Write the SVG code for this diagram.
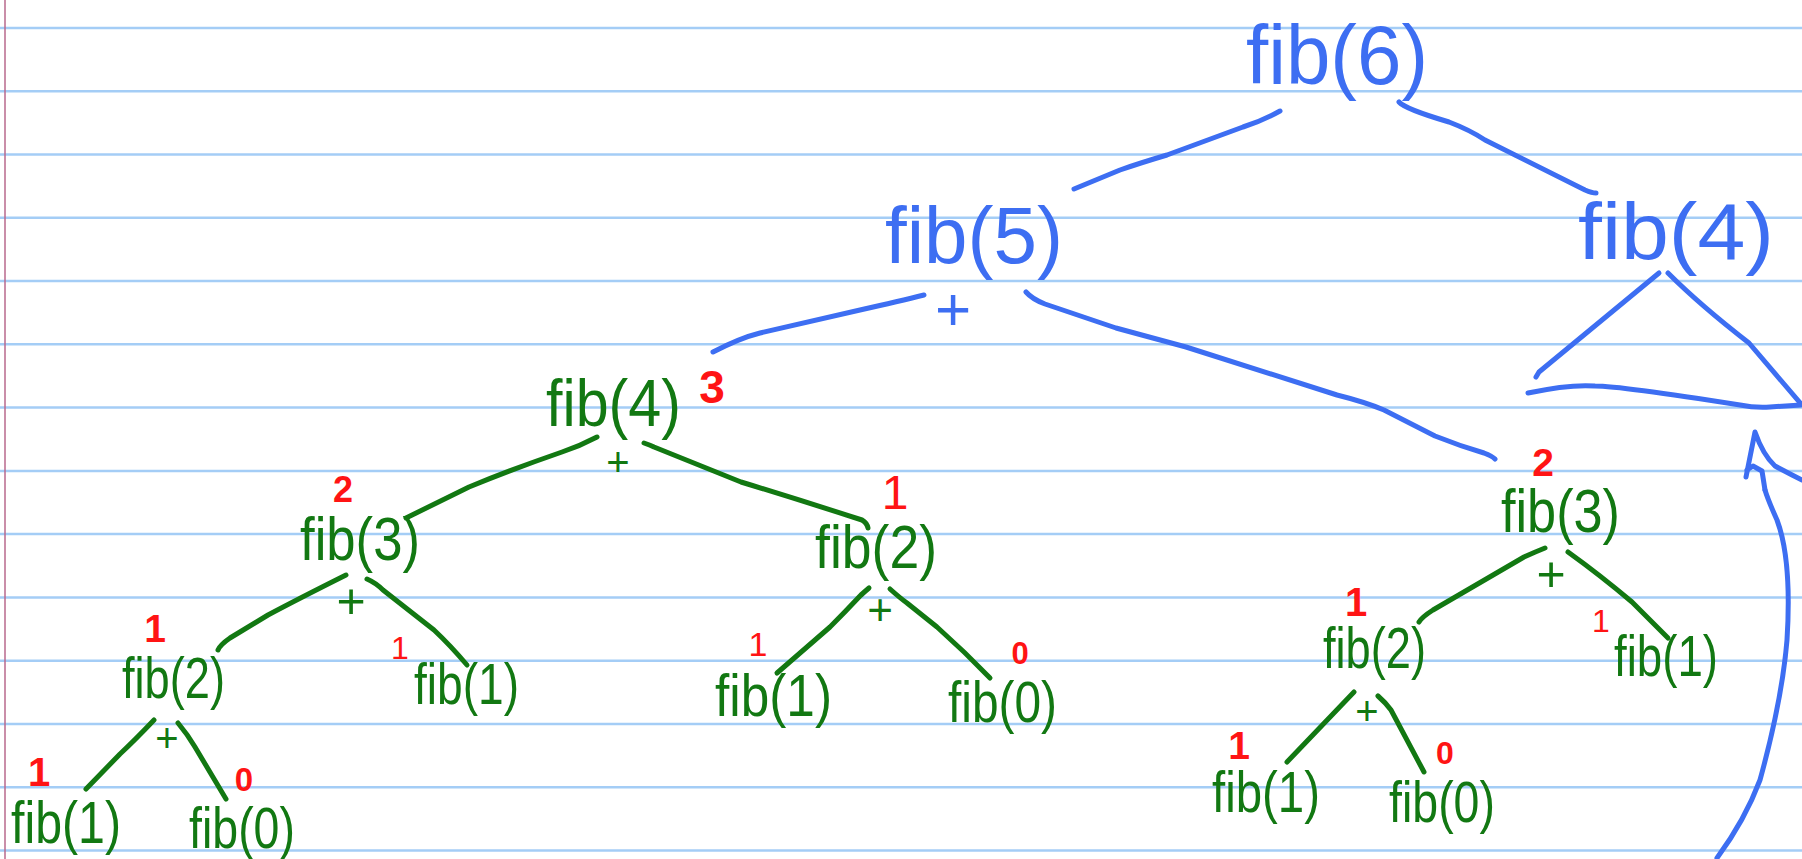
<svg xmlns="http://www.w3.org/2000/svg" width="1802" height="859" viewBox="0 0 1802 859">
<style>
.rule{stroke:#a4cdf6;stroke-width:2.5}
.margin{stroke:#b8698c;stroke-width:1.5}
.node{font-family:"Liberation Sans",Arial,sans-serif}
.blue{fill:#3d6ef2}
.green{fill:#127812}
.red{fill:#ff1414;font-family:"Liberation Sans",Arial,sans-serif;text-anchor:middle}
.b{font-weight:bold}
.plus{font-family:"Liberation Sans",Arial,sans-serif;text-anchor:middle}
.cb{fill:none;stroke:#3d6ef2;stroke-width:5;stroke-linecap:round;stroke-linejoin:round}
.cg{fill:none;stroke:#127812;stroke-width:5;stroke-linecap:round;stroke-linejoin:round}
</style>
<rect width="1802" height="859" fill="#ffffff"/>
<g id="paper">
<line class="rule" x1="0" y1="28" x2="1802" y2="28"/>
<line class="rule" x1="0" y1="91.3" x2="1802" y2="91.3"/>
<line class="rule" x1="0" y1="154.5" x2="1802" y2="154.5"/>
<line class="rule" x1="0" y1="217.8" x2="1802" y2="217.8"/>
<line class="rule" x1="0" y1="281" x2="1802" y2="281"/>
<line class="rule" x1="0" y1="344.3" x2="1802" y2="344.3"/>
<line class="rule" x1="0" y1="407.6" x2="1802" y2="407.6"/>
<line class="rule" x1="0" y1="470.9" x2="1802" y2="470.9"/>
<line class="rule" x1="0" y1="534.1" x2="1802" y2="534.1"/>
<line class="rule" x1="0" y1="597.4" x2="1802" y2="597.4"/>
<line class="rule" x1="0" y1="660.7" x2="1802" y2="660.7"/>
<line class="rule" x1="0" y1="724" x2="1802" y2="724"/>
<line class="rule" x1="0" y1="787.2" x2="1802" y2="787.2"/>
<line class="rule" x1="0" y1="850.5" x2="1802" y2="850.5"/>
<line class="margin" x1="5" y1="0" x2="5" y2="859"/>
</g>
<g id="connectors">
<path class="cb" d="M1280 111 Q1262 121 1243 127 L1167 155 Q1140 163 1120 170 L1074 189"/>
<path class="cb" d="M1399 102 Q1405 109 1449 122 Q1470 130 1485 140 L1585 190 Q1592 193 1596 193"/>
<path class="cb" d="M924 295 Q900 301 860 310 L760 333 Q740 338 713 352"/>
<path class="cb" d="M1026 292 Q1032 299 1045 304 L1116 328 L1186 347 L1337 395 Q1365 402 1384 410 L1435 436 Q1460 446 1484 453 Q1492 456 1495 459"/>
<path class="cb" d="M1659 273 L1539 372 L1536 377"/>
<path class="cb" d="M1668 273 Q1700 305 1749 343 L1801 404"/>
<path class="cb" d="M1528 393 Q1570 384 1595 386 Q1620 386 1740 405 Q1755 408 1770 407 L1801 405"/>
<path class="cb" d="M1717 858 Q1745 820 1760 780 Q1782 700 1787 640 Q1792 560 1777 520 Q1768 500 1765 490"/>
<path class="cb" d="M1746 477 L1755 432 Q1763 455 1775 466 Q1790 474 1802 480"/>
<path class="cb" d="M1747 470 L1753 466 L1762 471 L1765 490"/>
<path class="cg" d="M597 437 Q580 446 562 452 Q510 470 469 487 L406 518"/>
<path class="cg" d="M644 443 Q650 445 654 447 L741 482 Q800 500 862 520 Q867 523 868 528"/>
<path class="cg" d="M346 575 Q300 598 268 615 L230 638 Q220 645 218 650"/>
<path class="cg" d="M367 579 Q376 583 383 590 L434 630 Q450 645 467 665"/>
<path class="cg" d="M869 588 Q862 594 860 596 Q845 612 830 627 L777 673"/>
<path class="cg" d="M890 589 Q900 598 907 603 L937 627 Q965 652 990 678"/>
<path class="cg" d="M154 720 Q135 740 120 754 L86 789"/>
<path class="cg" d="M178 723 Q188 735 195 747 L226 799"/>
<path class="cg" d="M1545 548 Q1535 552 1524 557 L1433 610 Q1422 617 1419 622"/>
<path class="cg" d="M1568 552 Q1600 575 1632 602 L1668 638"/>
<path class="cg" d="M1354 692 L1287 762"/>
<path class="cg" d="M1378 696 Q1386 703 1391 710 L1424 772"/>
</g>
<g id="fib6">
<text class="node blue" x="1246" y="84" font-size="84" textLength="182" lengthAdjust="spacingAndGlyphs">fib(6)</text>
</g>
<g id="fib5">
<text class="node blue" x="885" y="263" font-size="80" textLength="178" lengthAdjust="spacingAndGlyphs">fib(5)</text>
<text class="plus blue" x="953" y="330" font-size="62">+</text>
</g>
<g id="fib4-right">
<text class="node blue" x="1578" y="259" font-size="80" textLength="196" lengthAdjust="spacingAndGlyphs">fib(4)</text>
</g>
<g id="fib4-left">
<text class="node green" x="546" y="426" font-size="66" textLength="135" lengthAdjust="spacingAndGlyphs">fib(4)</text>
<text class="red b" x="712" y="403" font-size="46">3</text>
<text class="plus green" x="618" y="476" font-size="40">+</text>
</g>
<g id="fib3-left">
<text class="node green" x="300" y="560" font-size="62" textLength="120" lengthAdjust="spacingAndGlyphs">fib(3)</text>
<text class="red b" x="343" y="502" font-size="36">2</text>
<text class="plus green" x="351" y="618" font-size="50">+</text>
</g>
<g id="fib2-mid">
<text class="node green" x="815" y="568" font-size="62" textLength="122" lengthAdjust="spacingAndGlyphs">fib(2)</text>
<text class="red" x="895" y="509" font-size="48">1</text>
<text class="plus green" x="880" y="625" font-size="44">+</text>
</g>
<g id="fib2-left">
<text class="node green" x="122" y="698" font-size="58" textLength="103" lengthAdjust="spacingAndGlyphs">fib(2)</text>
<text class="red b" x="155" y="642" font-size="39">1</text>
<text class="plus green" x="167" y="752" font-size="40">+</text>
</g>
<g id="fib1-upper-left">
<text class="node green" x="414" y="704" font-size="58" textLength="105" lengthAdjust="spacingAndGlyphs">fib(1)</text>
<text class="red" x="400" y="659" font-size="32">1</text>
</g>
<g id="fib1-mid">
<text class="node green" x="715" y="716" font-size="60" textLength="117" lengthAdjust="spacingAndGlyphs">fib(1)</text>
<text class="red" x="758" y="656" font-size="34">1</text>
</g>
<g id="fib0-mid">
<text class="node green" x="948" y="722" font-size="58" textLength="109" lengthAdjust="spacingAndGlyphs">fib(0)</text>
<text class="red b" x="1020" y="664" font-size="31">0</text>
</g>
<g id="fib1-bottom-left">
<text class="node green" x="11" y="843" font-size="60" textLength="110" lengthAdjust="spacingAndGlyphs">fib(1)</text>
<text class="red b" x="39" y="786" font-size="40">1</text>
</g>
<g id="fib0-bottom-left">
<text class="node green" x="189" y="848" font-size="58" textLength="106" lengthAdjust="spacingAndGlyphs">fib(0)</text>
<text class="red b" x="244" y="791" font-size="33">0</text>
</g>
<g id="fib3-right">
<text class="node green" x="1501" y="532" font-size="62" textLength="119" lengthAdjust="spacingAndGlyphs">fib(3)</text>
<text class="red b" x="1543" y="476" font-size="39">2</text>
<text class="plus green" x="1551" y="591" font-size="50">+</text>
</g>
<g id="fib2-right">
<text class="node green" x="1323" y="668" font-size="58" textLength="103" lengthAdjust="spacingAndGlyphs">fib(2)</text>
<text class="red b" x="1356" y="616" font-size="40">1</text>
<text class="plus green" x="1367" y="725" font-size="40">+</text>
</g>
<g id="fib1-right">
<text class="node green" x="1614" y="676" font-size="58" textLength="104" lengthAdjust="spacingAndGlyphs">fib(1)</text>
<text class="red" x="1601" y="632" font-size="32">1</text>
</g>
<g id="fib1-bottom-right">
<text class="node green" x="1212" y="812" font-size="58" textLength="108" lengthAdjust="spacingAndGlyphs">fib(1)</text>
<text class="red b" x="1239" y="759" font-size="39">1</text>
</g>
<g id="fib0-bottom-right">
<text class="node green" x="1389" y="822" font-size="58" textLength="106" lengthAdjust="spacingAndGlyphs">fib(0)</text>
<text class="red b" x="1445" y="764" font-size="32">0</text>
</g>
</svg>
